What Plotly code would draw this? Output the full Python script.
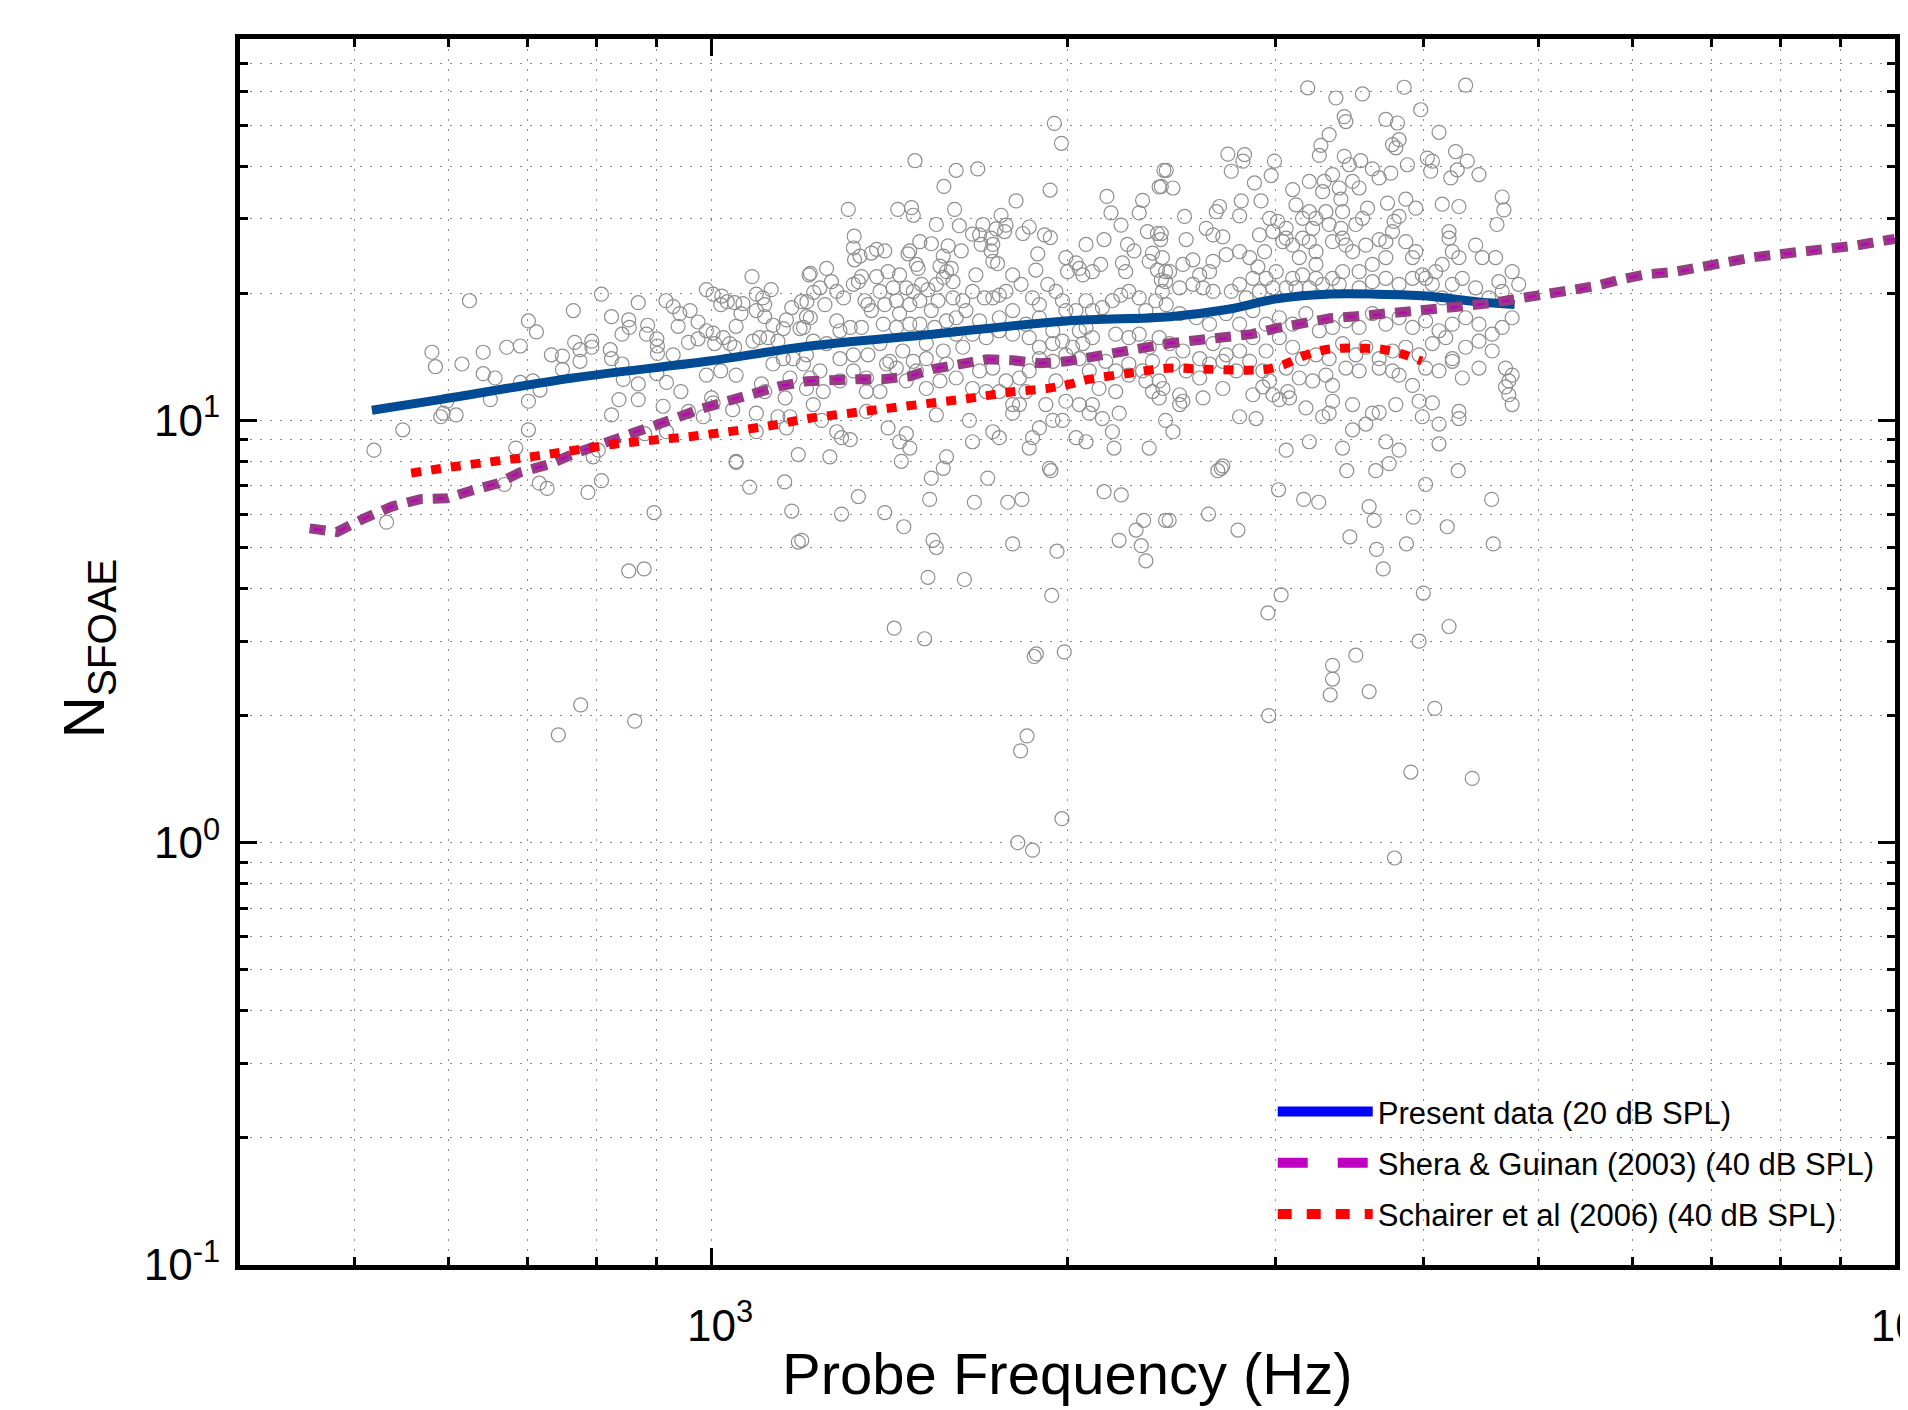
import math
import plotly.graph_objects as go

# ---------------- data (frequency in Hz, N_SFOAE) ----------------
# scatter: individual measurements, grouped by frequency region
scatter_low_freq = [
    (519, 8.5), (532, 5.74), (549, 9.5), (581, 14.5), (585, 13.4), (591, 10.2),
    (669, 7.05), (716, 7.1), (727, 6.9), (787, 6.75), (808, 7.2), (895, 6.05), (1050, 7.95),
    (1078, 6.95), (1154, 7.15), (1170, 6.1), (1185, 5.15), (852, 4.4), (878, 4.45),
    (776, 2.12), (743, 1.80), (862, 1.94),
    (625, 19.2), (808, 19.9), (1083, 21.9), (991, 20.4), (1210, 22.1), (868, 19.0), (916, 19.2),
    (929, 18.6), (941, 17.9), (960, 18.2), (765, 18.2), (701, 17.2), (712, 16.2), (824, 17.6),
    (852, 17.3), (853, 16.6), (841, 16.0), (884, 16.8), (882, 16.0), (900, 15.6), (901, 15.0),
    (938, 16.7), (975, 17.1), (991, 16.3), (1004, 16.1), (1021, 19.7), (1019, 18.8), (1032, 19.1),
    (1047, 19.0), (1064, 18.9), (1060, 17.9), (1092, 19.9), (1106, 19.5), (1110, 18.8), (1124, 20.4),
    (1092, 18.2), (1110, 17.6), (1128, 16.8), (1151, 16.5), (1170, 18.5), (1192, 19.1), (1204, 17.6),
    (1189, 16.5), (1158, 17.3), (1050, 16.7), (1024, 15.7), (1037, 15.2), (1085, 15.4), (1099, 15.7),
    (1117, 15.7), (1139, 15.4), (957, 15.3), (975, 15.6), (1007, 15.2), (1047, 14.9), (672, 14.9),
    (690, 15.0), (642, 14.5), (616, 13.6), (642, 12.9), (657, 12.6), (690, 12.3), (707, 12.4),
    (717, 11.8), (733, 14.3), (749, 14.2), (749, 13.2), (767, 15.3), (775, 14.7), (775, 13.8),
    (793, 15.4), (793, 14.9), (822, 14.7), (824, 14.0), (841, 13.6), (843, 12.5), (868, 12.2),
    (900, 12.9), (917, 12.3), (929, 14.3), (943, 11.7), (991, 12.8), (1019, 13.1), (1050, 12.8),
    (1128, 13.6), (1151, 14.0), (1173, 14.0), (1204, 14.3), (1166, 12.6), (1204, 11.9), (1155, 11.3),
    (1103, 12.2), (1110, 11.7), (1092, 10.4), (1139, 10.2), (1043, 10.6), (1001, 11.3), (1004, 11.0),
    (957, 10.5), (985, 10.2), (911, 10.8), (917, 9.4), (879, 9.3), (868, 11.2), (836, 11.2),
    (824, 10.3), (803, 8.5), (795, 8.2), (701, 11.1), (701, 9.5), (684, 8.6), (651, 11.2),
    (598, 11.1), (594, 10.4), (609, 10.3), (1050, 8.0), (1185, 8.3), (1158, 9.6), (1092, 9.4),
    (1166, 10.2), (901, 14.4), (1004, 19.9),
]

scatter_mid_freq = [
    (1950, 50.5), (1977, 45.3), (1487, 41.2), (1611, 39.1), (1680, 39.4), (2413, 39.1), (1573, 35.8),
    (1934, 35.1), (2391, 35.7), (2160, 33.9), (2177, 31.0), (2315, 33.2), (2300, 31.0), (1810, 33.1),
    (1306, 31.6), (1438, 31.6), (1477, 31.9), (1482, 30.6), (1606, 31.6), (1550, 29.1), (1758, 30.6),
    (1775, 29.0), (1697, 29.1), (1621, 28.9), (1663, 27.6), (1686, 27.5), (1724, 27.0), (1741, 28.4),
    (1770, 28.0), (1857, 28.7), (1834, 27.7), (1913, 27.5), (1935, 27.1), (2220, 29.0), (2337, 28.0),
    (2383, 27.7), (2398, 26.8), (1321, 27.3), (1319, 25.6), (1366, 24.9), (1380, 25.4), (1402, 25.2),
    (1336, 24.5), (1322, 24.0), (1501, 26.5), (1472, 25.2), (1467, 24.8), (1535, 26.2), (1586, 25.9),
    (1627, 25.2), (1571, 24.5), (1561, 23.2), (1596, 22.9), (1491, 23.4), (1496, 22.9), (1730, 26.1),
    (1724, 25.2), (1730, 23.8), (1746, 23.5), (1691, 26.1), (2074, 26.1), (2148, 26.8), (2248, 26.1),
    (2277, 25.2), (2360, 24.9), (2406, 24.3), (1888, 24.8), (1881, 22.7), (1994, 24.3), (2034, 23.6),
    (2001, 22.5), (2047, 22.9), (2061, 22.1), (2100, 22.5), (2134, 23.4), (2226, 23.6), (2240, 22.5),
    (2345, 23.8), (2383, 22.7), (2421, 22.5),
    (1213, 22.3), (1252, 22.9), (1264, 21.3), (1236, 20.6), (1221, 20.1), (1277, 20.2), (1205, 19.1),
    (1248, 18.8), (1294, 19.5), (1319, 21.0), (1340, 21.9), (1332, 21.3), (1380, 21.9), (1411, 22.5),
    (1443, 22.1), (1389, 20.2), (1425, 20.6), (1357, 18.8), (1366, 18.2), (1349, 19.2), (1402, 18.8),
    (1434, 19.2), (1462, 20.6), (1482, 20.2), (1506, 21.0), (1525, 20.4), (1550, 21.0), (1571, 21.8),
    (1581, 22.5), (1601, 21.3), (1555, 19.2), (1535, 18.2), (1501, 19.2), (1472, 18.8), (1443, 17.9),
    (1601, 19.5), (1632, 19.2), (1663, 20.2), (1674, 22.1), (1702, 19.5), (1730, 19.5), (1752, 19.8),
    (1775, 20.2), (1798, 22.1), (1828, 21.0), (1869, 19.5), (1894, 18.8), (1925, 21.0), (1956, 20.2),
    (1981, 19.2), (1994, 18.2), (2034, 18.2), (2074, 19.2), (2100, 18.2), (2141, 18.5), (2183, 19.2),
    (2219, 19.8), (2254, 20.2), (2300, 19.5), (2330, 18.2), (2375, 19.2), (2406, 20.2), (2421, 21.3),
    (1642, 18.2), (1611, 17.5), (1686, 17.2), (1752, 17.5), (1798, 18.2), (1845, 16.9), (1894, 17.5),
    (1944, 16.3), (2047, 16.3), (2074, 16.6), (1197, 16.6), (1213, 17.5), (1277, 17.2), (1285, 16.3),
    (1311, 16.6), (1340, 16.6), (1398, 16.9), (1434, 16.6), (1472, 16.9), (1501, 16.9), (1545, 16.6),
    (1581, 17.2), (1611, 16.0), (1663, 16.0), (1708, 15.7), (1752, 16.3), (1798, 16.0), (1857, 15.7),
    (1894, 14.9), (1944, 15.2), (1981, 15.4), (2020, 14.9), (2061, 15.2), (2100, 15.7), (2197, 16.0),
    (2254, 15.7), (2300, 16.0), (2345, 14.9), (2391, 15.7),
    (1220, 15.4), (1252, 15.2), (1285, 14.0), (1319, 14.3), (1357, 14.3), (1389, 15.2), (1416, 13.8),
    (1452, 14.6), (1482, 13.8), (1520, 14.0), (1520, 15.2), (1571, 14.6), (1581, 13.6), (1632, 14.9),
    (1686, 13.1), (1730, 13.3), (1775, 12.4), (1822, 12.6), (1857, 13.1), (1894, 14.0), (1944, 13.8),
    (1994, 14.3), (2047, 14.0), (2087, 13.1), (2155, 13.8), (2197, 13.1), (2254, 13.6), (2315, 13.1),
    (2360, 13.8), (2391, 12.4), (1197, 13.6), (1213, 12.6), (1244, 11.7), (1236, 13.1), (1285, 12.4),
    (1319, 13.1), (1353, 12.6), (1353, 11.7), (1389, 11.7), (1407, 13.6), (1434, 13.3), (1462, 12.4),
    (1491, 13.1), (1520, 11.9), (1561, 12.4), (1611, 12.6), (1663, 11.9), (1708, 11.7), (1752, 11.7),
    (1798, 10.9), (1845, 11.7), (1918, 10.9), (1956, 12.4), (1994, 11.1), (2047, 10.9), (2100, 10.9),
    (2127, 11.9), (2197, 11.7), (2254, 12.8), (2330, 12.4), (2360, 11.7), (2391, 11.3),
    (1220, 10.9), (1240, 10.0), (1277, 9.4), (1289, 9.1), (1311, 9.0), (1260, 8.2), (1353, 10.5),
    (1411, 9.6), (1443, 8.9), (1462, 9.3), (1472, 8.6), (1448, 8.0), (1550, 10.3), (1581, 8.2),
    (1663, 8.9), (1653, 10.0), (1730, 9.4), (1752, 9.1), (1798, 10.4), (1822, 10.9), (1869, 9.1),
    (1894, 9.6), (1944, 10.0), (1981, 10.0), (2034, 9.1), (2074, 8.9), (2087, 10.4), (2141, 10.1),
    (2183, 9.4), (2212, 10.4), (2190, 8.6), (2345, 8.6), (2421, 10.0), (1857, 8.6), (1931, 7.7),
    (1571, 7.7), (1535, 7.3), (1713, 7.3), (1937, 7.6), (1332, 6.6), (1289, 6.0), (1402, 6.05),
    (1455, 5.6), (1530, 6.5), (1669, 6.4), (1781, 6.4), (1831, 6.5), (1193, 5.2), (1540, 5.2),
    (1550, 5.0), (1798, 5.1), (1960, 4.9), (1525, 4.25), (1637, 4.2), (1940, 3.85), (1428, 3.22),
    (1515, 3.04), (1875, 2.76), (1883, 2.8), (1988, 2.83), (1849, 1.79), (1826, 1.65), (1979, 1.14),
    (1816, 1.0), (1869, 0.96), (2148, 6.78), (2221, 6.66), (2421, 5.8), (2320, 5.8), (2286, 5.5),
    (2212, 5.2), (2309, 5.05), (2330, 4.65),
]

scatter_high_freq = [
    (3192, 61.3), (3372, 58.0), (3551, 59.3), (3851, 61.5), (4340, 62.2), (3977, 54.4), (3427, 52.4),
    (3438, 51.0), (3716, 51.6), (3801, 50.6), (3328, 47.5), (3275, 44.8), (3265, 42.4), (3764, 45.0),
    (3813, 46.2), (3789, 44.2), (4121, 48.1), (4256, 43.3), (2733, 42.7), (2823, 42.6), (2814, 41.1),
    (2992, 41.1), (2751, 38.9), (2973, 38.0), (2878, 36.5), (3427, 42.2), (3461, 40.3), (3539, 41.2),
    (3620, 39.4), (3668, 37.5), (3752, 38.5), (3875, 40.3), (4028, 41.8), (4068, 41.1), (4055, 38.9),
    (4270, 39.2), (4216, 37.5), (4354, 41.1), (4454, 38.2), (2424, 39.1), (2456, 35.5), (2401, 35.8),
    (3202, 36.8), (3296, 36.8), (3394, 35.5), (3350, 38.2), (3483, 36.8), (3528, 35.5), (3100, 35.2),
    (3286, 34.8), (3405, 33.4), (3416, 31.2), (3202, 31.2), (3120, 32.4), (2915, 33.1), (2805, 33.1),
    (2689, 32.1), (2672, 31.2), (2512, 30.4), (2796, 30.5), (3586, 31.8), (3728, 32.7), (3863, 33.4),
    (3939, 31.8), (3813, 30.4), (3776, 29.6), (4147, 32.5), (4284, 32.1), (4660, 33.8), (4675, 31.5),
    (4613, 29.1), (2964, 30.1), (3011, 29.6), (3160, 30.1), (3244, 30.1), (3307, 31.2), (3551, 30.1),
    (3505, 29.1), (3405, 28.5), (3328, 29.1), (3223, 28.5), (3061, 28.5), (3061, 27.0), (2983, 28.0),
    (3041, 26.5), (3100, 26.0), (3160, 27.0), (2620, 28.5), (2655, 27.5), (2706, 27.2), (2401, 27.7),
    (2520, 26.8), (2724, 24.7), (2796, 25.1), (2906, 27.5), (2935, 25.1), (2851, 24.3), (2897, 23.1),
    (2553, 24.0), (2504, 23.4), (2440, 22.5), (2401, 21.5), (2655, 23.8), (2637, 22.5), (2587, 22.1),
    (2604, 20.6), (2655, 20.2), (2553, 21.0), (2488, 20.6),
    (3202, 26.5), (3244, 25.1), (3140, 24.3), (3244, 23.4), (3350, 26.5), (3416, 27.0), (3438, 26.0),
    (3483, 25.1), (3574, 26.0), (3668, 26.8), (3716, 26.5), (3764, 28.0), (3863, 26.5), (3939, 25.1),
    (3914, 24.3), (3716, 24.3), (3620, 23.4), (3528, 22.5), (3416, 22.5), (3350, 21.7), (3244, 21.7),
    (3160, 22.1), (3100, 21.7), (3061, 20.6), (3002, 22.5), (2944, 21.7), (2869, 21.7), (2796, 21.0),
    (2751, 20.2), (2832, 19.5), (2906, 20.2), (2983, 20.6), (3120, 20.6), (3202, 20.6), (3286, 21.0),
    (3394, 21.0), (3528, 20.6), (3620, 21.3), (3716, 21.7), (3813, 21.0), (3914, 21.7), (3989, 22.1),
    (4068, 21.0), (4147, 23.4), (4229, 25.1), (4284, 24.3), (4202, 27.0), (4202, 28.0), (4425, 26.0),
    (4483, 24.3), (4600, 24.3), (4630, 21.3), (4425, 20.6), (4312, 21.7), (4147, 19.5), (4015, 21.7),
    (4094, 22.5), (4229, 21.0), (4541, 19.5), (4660, 20.2), (4751, 22.5), (4812, 21.0),
    (2424, 18.8), (2488, 17.9), (2570, 17.5), (2637, 16.9), (2724, 17.9), (2796, 16.9), (2869, 18.2),
    (2944, 16.9), (3021, 17.5), (3100, 16.9), (3181, 17.9), (3265, 16.3), (3350, 16.6), (3438, 17.2),
    (3528, 16.6), (3620, 17.9), (3716, 16.9), (3813, 17.5), (3914, 16.6), (4015, 17.2), (4121, 16.3),
    (4229, 16.9), (4340, 17.5), (4454, 16.9), (4570, 16.0), (4660, 16.6), (4751, 17.5),
    (2440, 15.2), (2504, 14.6), (2587, 14.0), (2655, 15.2), (2724, 14.3), (2796, 14.6), (2869, 15.7),
    (2944, 14.6), (3021, 15.7), (3100, 14.9), (3160, 14.0), (3244, 14.3), (3328, 14.0), (3416, 15.2),
    (3505, 14.3), (3574, 14.9), (3668, 14.0), (3764, 14.6), (3863, 14.9), (3964, 14.3), (4068, 15.2),
    (4175, 15.7), (4229, 14.0), (4340, 14.9), (4454, 15.4), (4570, 14.6),
    (2456, 13.6), (2520, 13.1), (2587, 12.6), (2637, 13.6), (2706, 13.8), (2778, 13.1), (2851, 13.8),
    (2925, 13.1), (2964, 12.4), (3061, 13.3), (3140, 12.6), (3223, 12.4), (3307, 12.8), (3350, 12.1),
    (3438, 13.3), (3528, 13.1), (3668, 13.3), (3764, 13.1), (3813, 12.8), (3914, 12.1), (4015, 13.3),
    (4121, 13.1), (4229, 13.8), (4312, 12.6), (4454, 13.3), (4690, 13.3), (4751, 12.8), (4720, 12.4),
    (4690, 12.0),
    (2409, 11.9), (2488, 11.5), (2504, 11.1), (2488, 10.9), (2604, 11.3), (2706, 11.9), (2869, 11.5),
    (2925, 12.0), (2983, 11.5), (3021, 11.2), (3071, 11.7), (3081, 11.3), (3181, 10.7), (3286, 10.2),
    (3328, 10.4), (3350, 11.1), (3483, 10.9), (3620, 10.4), (3668, 10.45), (3789, 10.9), (3964, 11.1),
    (4068, 11.0), (4284, 10.5), (4284, 10.1), (4720, 11.5), (4751, 10.9), (2796, 10.2), (2887, 10.1),
    (2456, 9.4), (3202, 8.9), (3061, 8.5), (3416, 8.6), (3483, 9.5), (3574, 9.8), (3716, 8.9),
    (3813, 8.5), (3989, 10.2), (4121, 9.8), (4121, 8.8), (2706, 7.8),
    (2680, 7.6), (2698, 7.7), (3444, 7.6), (3644, 7.6), (3740, 7.9), (4278, 7.6), (4015, 7.05),
    (3016, 6.85), (3167, 6.5), (3261, 6.4), (3597, 6.25), (3632, 5.8), (3920, 5.9), (4187, 5.6),
    (4565, 6.5), (2438, 5.8), (2632, 6.0), (2787, 5.5), (3465, 5.3), (3649, 4.95), (3868, 5.1),
    (4579, 5.1), (3697, 4.45), (3031, 3.86), (3997, 3.9), (2954, 3.5), (4202, 3.25), (3964, 3.0),
    (3505, 2.78), (3350, 2.63), (3350, 2.44), (3335, 2.24), (3597, 2.28), (2959, 2.0), (4087, 2.08),
    (3901, 1.47), (4396, 1.42), (3779, 0.92),
]

# curves
present_freq = [517, 590, 764, 992, 1212, 1539, 1998, 2441, 2727, 3005, 3313, 3650, 4023, 4434, 4774]
present_n = [10.57, 11.2, 12.6, 13.8, 15.0, 16.0, 17.2, 17.6, 18.3, 19.4, 19.9, 19.9, 19.7, 19.1, 18.8]

shera_freq = [458, 483, 510, 538, 568, 598, 629, 661, 690, 731, 764, 801, 842, 888, 928, 978, 1031,
              1085, 1143, 1205, 1260, 1328, 1397, 1472, 1539, 1623, 1710, 1798, 1895, 1998, 2101,
              2214, 2334, 2441, 2572, 2716, 2862, 3005, 3162, 3332, 3511, 3686, 3893, 4102, 4315,
              4548, 4793, 5012, 5283, 5578, 5878, 6171, 6491, 6842, 7211, 7586, 7992, 8424, 8862,
              9303, 9842, 10000]
shera_n = [5.55, 5.44, 5.87, 6.26, 6.51, 6.54, 6.83, 7.10, 7.54, 7.88, 8.32, 8.69, 9.17, 9.63, 10.06,
           10.63, 11.1, 11.6, 12.05, 12.38, 12.52, 12.52, 12.52, 12.72, 13.22, 13.65, 13.95, 13.88,
           13.65, 13.8, 14.19, 14.58, 14.9, 15.23, 15.48, 15.65, 16.0, 16.53, 16.98, 17.45, 17.64,
           17.83, 18.03, 18.33, 18.63, 18.94, 19.36, 19.79, 20.12, 20.78, 21.59, 22.18, 22.43, 22.92,
           23.68, 24.33, 24.74, 25.01, 25.56, 25.98, 26.7, 26.9]

schairer_freq = [558, 610, 659, 711, 767, 828, 893, 965, 1043, 1128, 1212, 1310, 1416, 1530, 1654,
                 1788, 1932, 2009, 2089, 2257, 2427, 2623, 2835, 2947, 3052, 3161, 3286, 3410, 3545,
                 3686, 3840, 3985]
schairer_n = [7.50, 7.79, 8.01, 8.23, 8.50, 8.78, 8.98, 9.17, 9.43, 9.74, 10.12, 10.40, 10.69, 10.98,
              11.28, 11.66, 11.92, 12.18, 12.52, 12.93, 13.29, 13.22, 13.15, 13.22, 13.58, 14.19,
              14.66, 14.82, 14.82, 14.74, 14.35, 13.81]

legend_names = ["Present data (20 dB SPL)", "Shera & Guinan (2003) (40 dB SPL)",
                "Schairer et al (2006) (40 dB SPL)"]

x_major = [1000, 10000]
x_major_text = ["10<sup>3</sup>", "10<sup>4</sup>"]
x_minor = [400, 500, 600, 700, 800, 900, 2000, 3000, 4000, 5000, 6000, 7000, 8000, 9000]
y_major = [0.1, 1, 10]
y_major_text = ["10<sup>-1</sup>", "10<sup>0</sup>", "10<sup>1</sup>"]
y_minor = [0.2, 0.3, 0.4, 0.5, 0.6, 0.7, 0.8, 0.9, 2, 3, 4, 5, 6, 7, 8, 9, 20, 30, 40, 50, 60, 70]

# ---------------- figure ----------------
pts = scatter_low_freq + scatter_mid_freq + scatter_high_freq
sx = [p[0] for p in pts]
sy = [p[1] for p in pts]

FONT = "Liberation Sans, Arial, Helvetica, sans-serif"
fig = go.Figure()
fig.add_trace(go.Scatter(x=sx, y=sy, mode="markers", showlegend=False, hoverinfo="skip",
                         marker=dict(symbol="circle-open", size=14, color="#8e8e8e",
                                     line=dict(width=1.2, color="#8e8e8e"))))
fig.add_trace(go.Scatter(x=present_freq, y=present_n, mode="lines", showlegend=False,
                         line=dict(color="#004b93", width=9, shape="spline")))
fig.add_trace(go.Scatter(x=shera_freq, y=shera_n, mode="lines", showlegend=False,
                         line=dict(color="#963c82", width=10, dash="16px,10px")))
fig.add_trace(go.Scatter(x=shera_freq, y=shera_n, mode="lines", showlegend=False,
                         line=dict(color="#c000c0", width=2.5, dash="0px,4px,8px,14px")))
fig.add_trace(go.Scatter(x=schairer_freq, y=schairer_n, mode="lines", showlegend=False,
                         line=dict(color="#ff0000", width=9, dash="10px,10px", shape="spline")))

# legend entries
leg_styles = [dict(color="#0000ff", width=13),
              dict(color="#c000c0", width=13, dash="30px,30px"),
              dict(color="#ff0000", width=13, dash="14px,15px")]
for i, (nm, st) in enumerate(zip(legend_names, leg_styles)):
    fig.add_trace(go.Scatter(x=[None], y=[None], mode="lines", name=nm, line=st,
                             legendgroup="g%d" % i))

grid = dict(showgrid=True, gridcolor="#8a8a8a", gridwidth=1, griddash="2px,8px")
axis_common = dict(type="log", showline=True, linewidth=5, linecolor="black", mirror="ticks",
                   ticks="inside", ticklen=17, tickwidth=3, tickcolor="black",
                   zeroline=False, automargin=False, ticklabeloverflow="allow",
                   tickfont=dict(family=FONT, size=44, color="black"), **grid)

fig.update_xaxes(range=[math.log10(400), math.log10(10005)], tickmode="array", tickvals=x_major,
                 ticktext=x_major_text, ticklabelstandoff=18, ticklabelshift=9,
                 minor=dict(tickmode="array", tickvals=x_minor, ticks="inside", ticklen=8,
                            tickwidth=3, tickcolor="black", showgrid=True, gridcolor="#8a8a8a",
                            gridwidth=1, griddash="2px,8px"),
                 **axis_common)
fig.update_yaxes(range=[-1, math.log10(80)], tickmode="array", tickvals=y_major,
                 ticktext=y_major_text, ticklabelstandoff=6,
                 minor=dict(tickmode="array", tickvals=y_minor, ticks="inside", ticklen=8,
                            tickwidth=3, tickcolor="black", showgrid=True, gridcolor="#8a8a8a",
                            gridwidth=1, griddash="2px,8px"),
                 **axis_common)

fig.update_layout(
    width=1908, height=1410,
    margin=dict(l=232, r=21, t=31, b=153, pad=0),
    paper_bgcolor="white", plot_bgcolor="white",
    font=dict(family=FONT, color="black"),
    legend=dict(x=0.624, y=0.147, xanchor="left", yanchor="top", bgcolor="rgba(0,0,0,0)",
                borderwidth=0, font=dict(family=FONT, size=31, color="black"),
                itemwidth=95, tracegroupgap=8),
    annotations=[
        dict(text="Probe Frequency (Hz)", xref="paper", yref="paper", x=0.5, y=-0.1166,
             xanchor="center", yanchor="bottom", showarrow=False,
             font=dict(family=FONT, size=58, color="black")),
        dict(text="N<sub>SFOAE</sub>", xref="paper", yref="paper", x=-0.0918, y=0.5024,
             xanchor="center", yanchor="middle", textangle=-90, showarrow=False,
             font=dict(family=FONT, size=58, color="black")),
    ],
)

fig.write_html("out.html")
